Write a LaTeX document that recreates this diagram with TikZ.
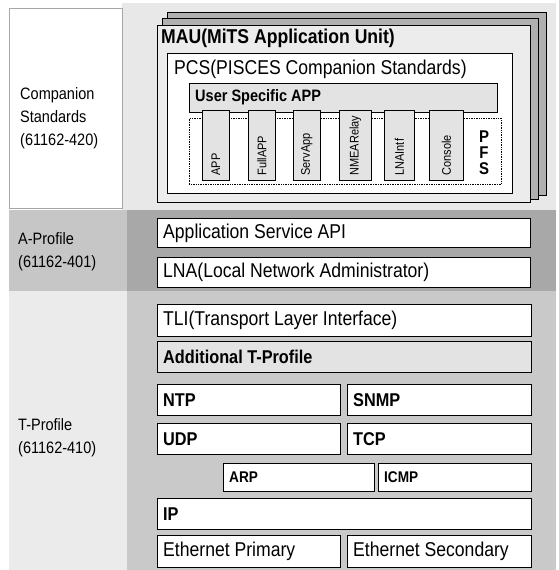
\documentclass[tikz,border=0pt]{standalone}
\usepackage{fontspec}
\setmainfont[FakeStretch=0.88]{Liberation Sans}
\begin{document}
\begin{tikzpicture}[x=1pt,y=-1pt,
  wbox/.style={draw=black, fill=white, line width=0.8pt, anchor=north west, inner sep=0pt},
  gbox/.style={draw=black, fill=gray!22, line width=0.8pt, anchor=north west, inner sep=0pt},
  dbox/.style={draw=black, densely dotted, line width=0.7pt, anchor=north west, inner sep=0pt},
  shbox/.style={draw=black, fill=gray!62, line width=0.5pt, anchor=north west, inner sep=0pt},
  lab/.style={font=\fontsize{20}{22}\selectfont, anchor=west, inner sep=0pt},
  blab/.style={font=\bfseries\fontsize{18.5}{22}\selectfont, anchor=west, inner sep=0pt},
  slab/.style={font=\bfseries\fontsize{15.5}{18}\selectfont, anchor=west, inner sep=0pt},
  side/.style={font=\fontsize{16.5}{23}\selectfont, align=left, anchor=west, inner sep=0pt},
  vlab/.style={font=\fontsize{12.5}{14}\selectfont, rotate=90, anchor=west, inner sep=0pt},
]
\newcommand\blk[6]{\node[#1, minimum width={(#5-#3)*1pt}, minimum height={(#6-#4)*1pt}] (#2) at (#3,#4) {};}
\useasboundingbox (0,0) rectangle (558,570);
\fill[white] (0,0) rectangle (558,570);
% background bands
\fill[gray!18] (122,3) rectangle (556,210);
\draw[gray!70, line width=0.6pt, fill=white] (9,8) rectangle (122,208);
\fill[gray!45] (9,210) rectangle (127,291);
\fill[gray!68] (127,210) rectangle (556,291);
\fill[gray!16] (9,291) rectangle (127,570);
\fill[gray!42] (127,291) rectangle (556,570);
% MAU stack
\blk{shbox}{mau3}{167}{12}{546}{195}
\blk{shbox}{mau2}{162}{18}{538}{199}
\blk{draw=black, fill=gray!15, line width=0.8pt, anchor=north west, inner sep=0pt}{mau}{157}{25}{530}{202}
\node[font=\bfseries\fontsize{20}{22}\selectfont, anchor=north west, inner sep=0pt] (maut) at (161,29) {MAU(MiTS Application Unit)};
\blk{wbox}{pcs}{167}{53}{512}{193}
\node[font=\fontsize{20}{22}\selectfont, anchor=north west, inner sep=0pt] (pcst) at (174,60) {PCS(PISCES Companion Standards)};
\blk{gbox}{usr}{189}{83}{497}{112}
\node[font=\bfseries\fontsize{16.5}{18}\selectfont, anchor=west, inner sep=0pt] (usrt) at ([xshift=6pt,yshift=1pt]usr.west) {User Specific APP};
\blk{dbox}{pfsb}{189}{118}{501}{184}
\blk{gbox}{v1}{202}{110}{229}{180}
\blk{gbox}{v2}{248}{110}{275}{180}
\blk{gbox}{v3}{293}{110}{320}{180}
\blk{gbox}{v4}{339}{110}{371}{180}
\blk{gbox}{v5}{384}{110}{414}{180}
\blk{gbox}{v6}{429}{110}{463}{180}
\node[vlab] (v1t) at ([yshift=5pt]v1.south) {APP};
\node[vlab] (v2t) at ([yshift=5pt]v2.south) {FullAPP};
\node[vlab] (v3t) at ([yshift=5pt]v3.south) {ServApp};
\node[vlab] (v4t) at ([yshift=5pt]v4.south) {NMEARelay};
\node[vlab] (v5t) at ([yshift=5pt]v5.south) {LNAIntf};
\node[vlab] (v6t) at ([yshift=5pt]v6.south) {Console};
\node[font=\bfseries\fontsize{17}{16}\selectfont, align=center, inner sep=0pt] (pfs) at (484,153) {P\\F\\S};
% side labels
\node[side] (cs) at (20,118) {Companion\\Standards\\(61162-420)};
\node[side] (ap) at (18,252) {A-Profile\\(61162-401)};
\node[side] (tp) at (18,438) {T-Profile\\(61162-410)};
% A-Profile
\blk{wbox}{asa}{157}{218}{530}{247}
\node[lab] (asat) at ([xshift=6pt]asa.west) {Application Service API};
\blk{wbox}{lna}{157}{257}{530}{287}
\node[lab] (lnat) at ([xshift=6pt]lna.west) {LNA(Local Network Administrator)};
% T-Profile
\blk{wbox}{tli}{157}{304}{531}{336}
\node[lab] (tlit) at ([xshift=6pt]tli.west) {TLI(Transport Layer Interface)};
\blk{gbox}{atp}{157}{341}{531}{372}
\node[blab] (atpt) at ([xshift=6pt]atp.west) {Additional T-Profile};
\blk{wbox}{ntp}{157}{384}{340}{415}
\node[blab] (ntpt) at ([xshift=6pt]ntp.west) {NTP};
\blk{wbox}{snmp}{347}{384}{531}{415}
\node[blab] (snmpt) at ([xshift=6pt]snmp.west) {SNMP};
\blk{wbox}{udp}{157}{423}{340}{454}
\node[blab] (udpt) at ([xshift=6pt]udp.west) {UDP};
\blk{wbox}{tcp}{347}{423}{531}{454}
\node[blab] (tcpt) at ([xshift=6pt]tcp.west) {TCP};
\blk{wbox}{arp}{223}{463}{374}{491}
\node[slab] (arpt) at ([xshift=6pt]arp.west) {ARP};
\blk{wbox}{icmp}{378}{463}{531}{491}
\node[slab] (icmpt) at ([xshift=6pt]icmp.west) {ICMP};
\blk{wbox}{ip}{157}{498}{531}{529}
\node[blab] (ipt) at ([xshift=6pt]ip.west) {IP};
\blk{wbox}{ethp}{157}{535}{340}{567}
\node[lab] (etht) at ([xshift=6pt]ethp.west) {Ethernet Primary};
\blk{wbox}{eths}{347}{535}{531}{567}
\node[lab] (ethst) at ([xshift=6pt]eths.west) {Ethernet Secondary};
\end{tikzpicture}
\end{document}
